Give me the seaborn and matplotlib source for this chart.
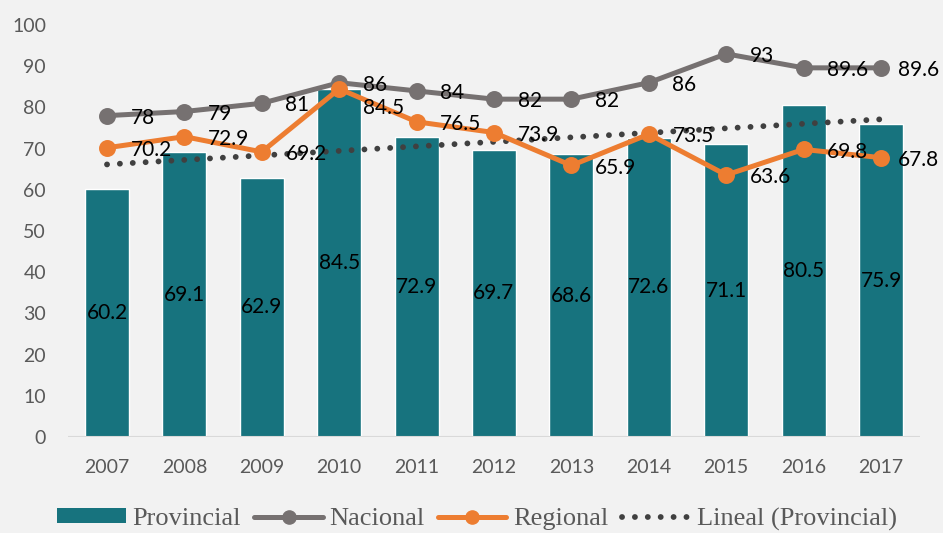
import numpy as np
import pandas as pd
import matplotlib
matplotlib.use("Agg")
import matplotlib.pyplot as plt
import seaborn as sns
from matplotlib.patches import Patch
from matplotlib.lines import Line2D

# Series values
years = ["2007", "2008", "2009", "2010", "2011", "2012", "2013", "2014", "2015", "2016", "2017"]
provincial = [60.2, 69.1, 62.9, 84.5, 72.9, 69.7, 68.6, 72.6, 71.1, 80.5, 75.9]
nacional = [78, 79, 81, 86, 84, 82, 82, 86, 93, 89.6, 89.6]
regional = [70.2, 72.9, 69.2, 84.5, 76.5, 73.9, 65.9, 73.5, 63.6, 69.8, 67.8]
y_ticks = [0, 10, 20, 30, 40, 50, 60, 70, 80, 90, 100]

series_names = ["Provincial", "Nacional", "Regional", "Lineal (Provincial)"]

df = pd.DataFrame({"year": years, "provincial": provincial,
                   "nacional": nacional, "regional": regional})

BG = "#F2F2F2"
TEAL = "#17737E"
GRAY = "#767171"
ORANGE = "#ED7D31"
DOTS = "#404040"
TICK_COLOR = "#595959"
DOT_STYLE = (0, (0.01, 2.2))

sns.set_theme(style="white")
plt.rcParams["font.family"] = ["Lato", "DejaVu Sans"]

fig = plt.figure(figsize=(9.43, 5.33), dpi=100, facecolor=BG)
ax = fig.add_axes([68.3 / 943, 96 / 533, (919.7 - 68.3) / 943, (437 - 25) / 533])
ax.set_facecolor(BG)

# Bars
sns.barplot(data=df, x="year", y="provincial", color=TEAL, width=0.57,
            saturation=1, ax=ax, zorder=2)

# Linear trend of the provincial series
xs = np.arange(len(years))
slope, intercept = np.polyfit(xs, provincial, 1)
trend = slope * xs + intercept
ax.plot(xs, trend, color=DOTS, lw=4.2, linestyle=DOT_STYLE,
        dash_capstyle="round", zorder=3)

# Lines with markers
sns.pointplot(data=df, x="year", y="nacional", color=GRAY, markers="o",
              linestyles="-", errorbar=None, ax=ax, markersize=9.5,
              linewidth=3.6)
sns.pointplot(data=df, x="year", y="regional", color=ORANGE, markers="o",
              linestyles="-", errorbar=None, ax=ax, markersize=9.5,
              linewidth=3.6)
for ln in ax.lines[1:]:
    ln.set_zorder(4)

lab_font = dict(fontsize=15, color="black", family=["Lato", "DejaVu Sans"])

# Value labels inside the bars
for i, v in enumerate(provincial):
    ax.text(i, v / 2, f"{v:g}", ha="center", va="center", zorder=6, **lab_font)

# Value labels to the right of the line points
last = len(years) - 1
nudges = {("regional", 3): (0, -12),
          ("nacional", last): (-5, 0),
          ("regional", last): (-5, 0)}
for name, vals in (("nacional", nacional), ("regional", regional)):
    for i, v in enumerate(vals):
        dx, dy = nudges.get((name, i), (0, 0))
        ax.annotate(f"{v:g}", (i, v), xytext=(17 + dx, -1.5 + dy),
                    textcoords="offset points", ha="left", va="center",
                    zorder=6, **lab_font)

ax.set_xlim(-0.5, len(years) - 0.5)
ax.set_ylim(0, 100)
ax.set_yticks(y_ticks)
ax.set_xlabel("")
ax.set_ylabel("")
ax.tick_params(axis="both", length=0, pad=16, labelsize=14, labelcolor=TICK_COLOR)
for s in ax.spines.values():
    s.set_visible(False)
ax.axhline(0, color="#D9D9D9", lw=1.5, zorder=5)
ax.grid(False)

handles = [
    Patch(facecolor=TEAL, edgecolor="none"),
    Line2D([], [], color=GRAY, lw=3.6, marker="o", markersize=9.5),
    Line2D([], [], color=ORANGE, lw=3.6, marker="o", markersize=9.5),
    Line2D([], [], color=DOTS, lw=4.2, linestyle=DOT_STYLE,
           dash_capstyle="round"),
]
leg = fig.legend(handles, series_names, loc="center",
                 bbox_to_anchor=(477 / 943, 1 - 519 / 533), ncol=4,
                 frameon=False, handlelength=2.6, handleheight=0.5,
                 handletextpad=0.25, columnspacing=0.5,
                 prop={"family": ["Liberation Serif", "DejaVu Serif"], "size": 19})
for t in leg.get_texts():
    t.set_color(TICK_COLOR)

fig.savefig("out.png", dpi=100, facecolor=BG)
